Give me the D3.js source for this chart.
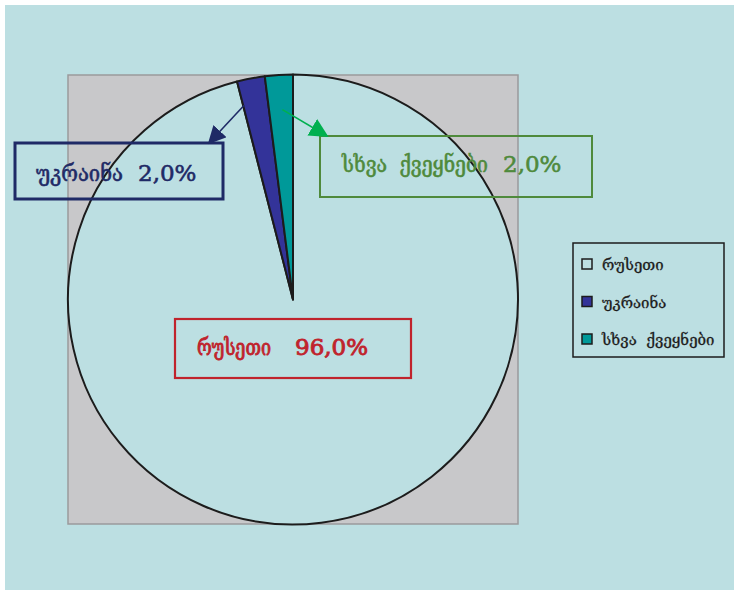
<!DOCTYPE html>
<html>
<head>
<meta charset="utf-8">
<script src="https://cdn.jsdelivr.net/npm/d3@7"></script>
<style>
  html, body { margin: 0; padding: 0; background: #ffffff; }
  svg text { white-space: pre; }
</style>
</head>
<body>
<svg id="chart" width="734" height="590"></svg>
<script>
// Import structure: share of each source country
const categories = ["რუსეთი", "უკრაინა", "სხვა  ქვეყნები"];
const values = [96.0, 2.0, 2.0];
const sliceColors = ["#bcdfe2", "#333399", "#009999"];
const labelColors = ["#c0232c", "#1f2a66", "#4f8a3c"];

const svg = d3.select("#chart");
const W = 734, H = 590;
const font = "'DejaVu Serif', 'DejaVu Sans', serif";

// chart area background
svg.append("rect").attr("x", 5).attr("y", 5).attr("width", W - 5).attr("height", H - 5)
  .attr("fill", "#bcdfe2");

// plot area
const plot = { x: 68, y: 75, w: 450, h: 449 };
svg.append("rect").attr("x", plot.x).attr("y", plot.y).attr("width", plot.w).attr("height", plot.h)
  .attr("fill", "#c8c8ca").attr("stroke", "#9a9a9c").attr("stroke-width", 1.5);

const cx = plot.x + plot.w / 2, cy = plot.y + plot.h / 2;
const R = plot.w / 2;

const pie = d3.pie().sort(null).value(d => d.value);
const data = categories.map((c, i) => ({ name: c, value: values[i], color: sliceColors[i] }));
const arcs = pie(data);
const arc = d3.arc().innerRadius(0).outerRadius(R);

const g = svg.append("g").attr("transform", `translate(${cx},${cy})`);
g.selectAll("path.slice").data(arcs).join("path")
  .attr("class", "slice")
  .attr("d", arc)
  .attr("fill", d => d.data.color)
  .attr("stroke", "#1c1c1c").attr("stroke-width", 2).attr("stroke-linejoin", "round");

// arrow markers
const defs = svg.append("defs");
function marker(id, color, size) {
  defs.append("marker").attr("id", id).attr("viewBox", "0 0 10 10")
    .attr("refX", 9).attr("refY", 5).attr("markerWidth", size).attr("markerHeight", size)
    .attr("markerUnits", "userSpaceOnUse")
    .attr("orient", "auto")
    .append("path").attr("d", "M0,0 L10,5 L0,10 Z").attr("fill", color);
}
marker("arrNavy", "#1f2a66", 18);
marker("arrGreen", "#00b04f", 19);

const fmt = v => d3.format(".1f")(v).replace(".", ",") + "%";
const pointAt = (angle, r) => [cx + r * Math.sin(angle), cy - r * Math.cos(angle)];

// data labels: box, name, value and pointer for each slice
const labels = [
  { i: 0, box: [175, 319, 236, 59], nameX: 197, nameW: 74, valX: 295, baseY: 355,
    stroke: 2.2, thick: 0.9 },
  { i: 1, box: [15, 143, 208, 56], nameX: 36, nameW: 87, valX: 138, baseY: 181,
    stroke: 3, thick: 0.6,
    from: [arcs[1].startAngle + 0.005, 0.89], to: [209, 143], marker: "arrNavy", lineColor: "#1f2a66" },
  { i: 2, box: [320, 136, 272, 61], nameX: 342, nameW: 146, valX: 503, baseY: 172,
    stroke: 2, thick: 0.6,
    from: [arcs[2].startAngle + 0.07, 0.845], to: [327, 136], marker: "arrGreen", lineColor: "#00b04f" }
];

labels.forEach(l => {
  const color = labelColors[l.i];
  const [bx, by, bw, bh] = l.box;
  svg.append("rect").attr("x", bx).attr("y", by).attr("width", bw).attr("height", bh)
    .attr("fill", "none").attr("stroke", color).attr("stroke-width", l.stroke);
  const t = svg.append("text").attr("y", l.baseY)
    .attr("font-family", font).attr("font-size", 22)
    .attr("fill", color).attr("stroke", color).attr("stroke-width", l.thick);
  t.append("tspan").attr("x", l.nameX)
    .attr("textLength", l.nameW).attr("lengthAdjust", "spacingAndGlyphs")
    .text(categories[l.i]);
  t.append("tspan").attr("x", l.valX).attr("font-size", 23).text(fmt(values[l.i]));
  if (l.from) {
    const p = pointAt(l.from[0], R * l.from[1]);
    svg.append("line").attr("x1", p[0]).attr("y1", p[1]).attr("x2", l.to[0]).attr("y2", l.to[1])
      .attr("stroke", l.lineColor).attr("stroke-width", 1.6)
      .attr("marker-end", `url(#${l.marker})`);
  }
});

// legend
const leg = svg.append("g");
leg.append("rect").attr("x", 573).attr("y", 243).attr("width", 151).attr("height", 114)
  .attr("fill", "none").attr("stroke", "#1c1c1c").attr("stroke-width", 1.5);
const rowY = d3.scalePoint().domain(categories).range([264, 339]);
const rows = leg.selectAll("g.row").data(data).join("g").attr("class", "row")
  .attr("transform", d => `translate(0,${rowY(d.name)})`);
rows.append("rect").attr("x", 582).attr("y", -5).attr("width", 10).attr("height", 10)
  .attr("fill", d => d.color).attr("stroke", "#1c1c1c").attr("stroke-width", 1.5);
rows.append("text").attr("x", 602).attr("y", 6)
  .attr("font-family", font).attr("font-size", 15).attr("fill", "#1c1c1c")
  .attr("stroke", "#1c1c1c").attr("stroke-width", 0.3)
  .text(d => d.name);
</script>
</body>
</html>
